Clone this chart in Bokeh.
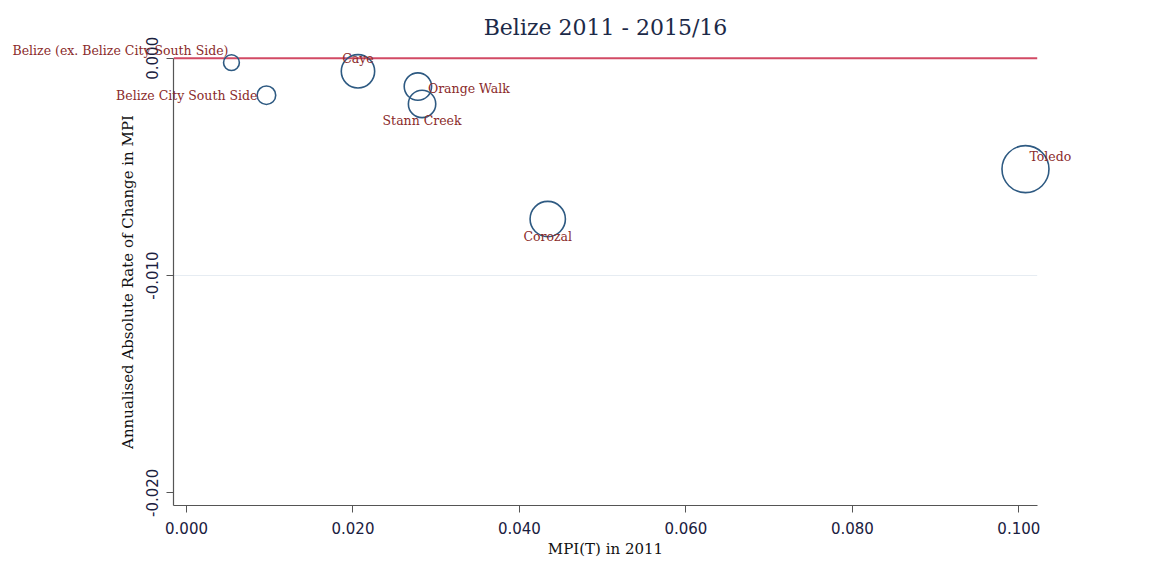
import math
from bokeh.plotting import figure
from bokeh.models import ColumnDataSource, FixedTicker, NumeralTickFormatter, Range1d, Label
from bokeh.embed import file_html
from bokeh.resources import INLINE

# ---- data ----
regions = ["Belize (ex. Belize City South Side)", "Belize City South Side", "Caye",
           "Orange Walk", "Stann Creek", "Corozal", "Toledo"]
mpi_2011 = [0.0054, 0.0096, 0.0206, 0.0278, 0.0283, 0.0434, 0.1008]
abs_change = [-0.0002, -0.0017, -0.0006, -0.0013, -0.0021, -0.0074, -0.0051]
weights = [2.6, 3.6, 11.6, 7.8, 7.8, 13.0, 23.0]
x_ticks = [0.0, 0.02, 0.04, 0.06, 0.08, 0.10]
y_ticks = [-0.020, -0.010, 0.000]
ref_value = 0.0          # horizontal reference line
grid_value = -0.010      # faint grid line

# ---- layout / style ----
W, H = 1143, 567
x_lo, x_hi = -0.00153, 0.10221      # extent of the drawn axes
y_lo, y_hi = -0.02058, 0.0
view_x = (-0.02235, 0.11498)        # whole canvas (so labels are never clipped)
view_y = (-0.02344, 0.00266)

label_style = {   # align, baseline, dx, dy (screen px, +dy = down)
    "Belize (ex. Belize City South Side)": ("right", "middle", -3, -12),
    "Belize City South Side": ("right", "middle", -9, 0),
    "Caye": ("center", "middle", 0, -13),
    "Orange Walk": ("left", "middle", 10, 2),
    "Stann Creek": ("center", "middle", 0, 17),
    "Corozal": ("center", "middle", 0, 17),
    "Toledo": ("left", "middle", 4, -13),
}

SERIF = "DejaVu Serif"
AX_COLOR = "#555555"

p = figure(width=W, height=H, output_backend="svg", toolbar_location=None,
           x_range=Range1d(*view_x), y_range=Range1d(*view_y),
           min_border=0)
p.outline_line_color = None
p.background_fill_color = "white"
p.border_fill_color = "white"
p.xgrid.visible = False
p.ygrid.visible = False

# axes drawn at fixed locations, limited to the plot region
p.xaxis.fixed_location = y_lo
p.xaxis.bounds = (x_lo, x_hi)
p.yaxis.fixed_location = x_lo
p.yaxis.bounds = (y_lo, y_hi)

for ax in (p.xaxis[0], p.yaxis[0]):
    ax.axis_line_color = AX_COLOR
    ax.axis_line_width = 1.2
    ax.major_tick_line_color = AX_COLOR
    ax.major_tick_out = 7
    ax.major_tick_in = 0
    ax.minor_tick_line_color = None
    ax.major_label_text_font = "DejaVu Sans"
    ax.major_label_text_font_size = "15px"
    ax.major_label_text_color = "#1a2040"
    ax.axis_label_text_font = SERIF
    ax.axis_label_text_font_size = "15px"
    ax.axis_label_text_font_style = "normal"
    ax.axis_label_text_color = "#111111"
    ax.formatter = NumeralTickFormatter(format="0.000")

p.xaxis.ticker = FixedTicker(ticks=x_ticks)
p.yaxis.ticker = FixedTicker(ticks=y_ticks)
p.xaxis.axis_label = "MPI(T) in 2011"
p.yaxis.axis_label = "Annualised Absolute Rate of Change in MPI"
p.yaxis.major_label_orientation = "vertical"
p.xaxis.major_label_standoff = 10
p.yaxis.major_label_standoff = 9
p.xaxis.axis_label_standoff = 2
p.yaxis.axis_label_standoff = 6

# faint grid line and red reference line
p.segment(x0=[x_lo], x1=[x_hi], y0=[grid_value], y1=[grid_value],
          line_color="#e6ecf2", line_width=1)
p.segment(x0=[x_lo], x1=[x_hi], y0=[ref_value], y1=[ref_value],
          line_color="#d24a64", line_width=2)

sizes = [9.8 * math.sqrt(w) for w in weights]
src = ColumnDataSource(dict(x=mpi_2011, y=abs_change, size=sizes, name=regions))
p.scatter("x", "y", size="size", source=src, marker="circle", fill_color=None,
          line_color="#2e5a82", line_width=1.6)

for name, xv, yv in zip(regions, mpi_2011, abs_change):
    align, base, dx, dy = label_style[name]
    p.add_layout(Label(x=xv, y=yv, text=name, text_align=align,
                       text_baseline=base, x_offset=dx, y_offset=-dy,
                       text_font=SERIF, text_font_size="12.5px", text_color="#8a2a2a"))

# title
p.add_layout(Label(x=(x_lo + x_hi) / 2, y=H - 27, y_units="screen", text="Belize 2011 - 2015/16",
                   text_align="center", text_baseline="middle", text_font=SERIF,
                   text_font_size="22px", text_color="#1c2a48"))

open("out.html", "w").write(file_html(p, INLINE))
